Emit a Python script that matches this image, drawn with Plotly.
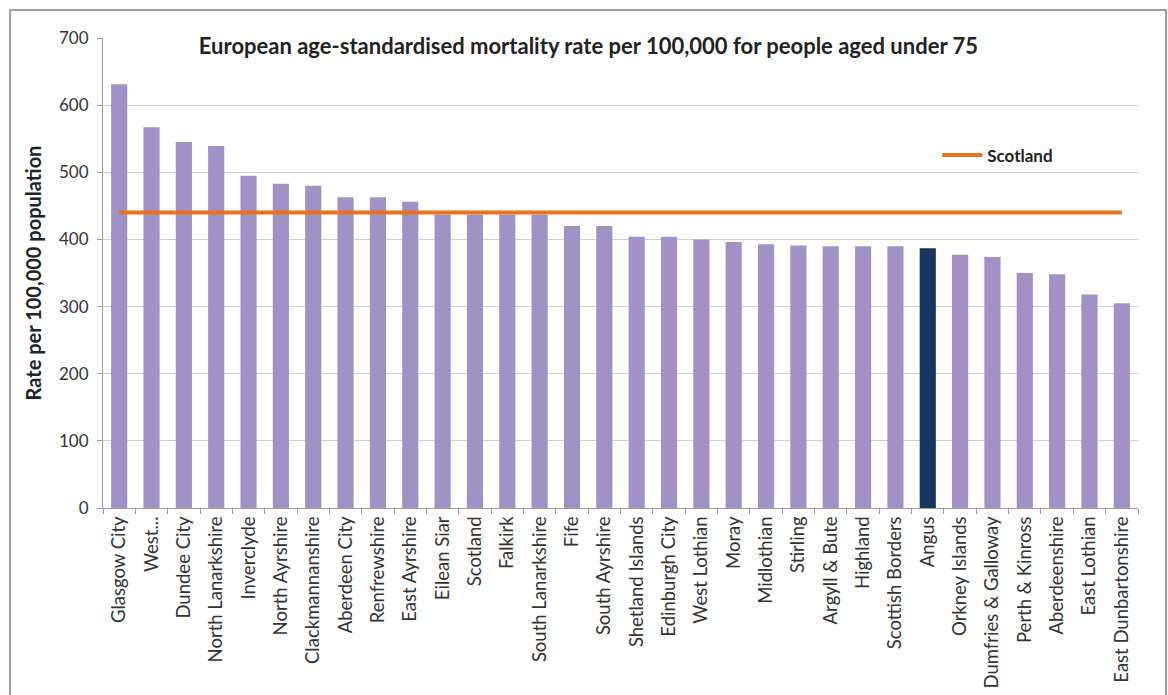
import plotly.graph_objects as go

categories = ["Glasgow City", "West...", "Dundee City", "North Lanarkshire", "Inverclyde",
              "North Ayrshire", "Clackmannanshire", "Aberdeen City", "Renfrewshire", "East Ayrshire",
              "Eilean Siar", "Scotland", "Falkirk", "South Lanarkshire", "Fife", "South Ayrshire",
              "Shetland Islands", "Edinburgh City", "West Lothian", "Moray", "Midlothian", "Stirling",
              "Argyll & Bute", "Highland", "Scottish Borders", "Angus", "Orkney Islands",
              "Dumfries & Galloway", "Perth & Kinross", "Aberdeenshire", "East Lothian",
              "East Dunbartonshire"]
rates = [631, 567, 545, 539, 495, 483, 480, 463, 463, 456, 437, 437, 437, 437, 420, 420,
         404, 404, 400, 396, 393, 391, 390, 390, 390, 387, 377, 374, 350, 348, 318, 305]
scotland_rate = 440
highlight = "Angus"
y_ticks = [0, 100, 200, 300, 400, 500, 600, 700]

bar_colors = ["#17375E" if c == highlight else "#A192C6" for c in categories]

fig = go.Figure()
fig.add_trace(go.Bar(x=categories, y=rates, marker=dict(color=bar_colors, line=dict(width=0)),
                     showlegend=False))
fig.add_trace(go.Scatter(x=categories, y=[scotland_rate] * len(categories), mode="lines",
                         line=dict(color="#E8731C", width=4), name="<b>Scotland</b>"))

fig.update_layout(
    width=1168, height=695,
    margin=dict(l=103, r=30, t=38, b=187, autoexpand=False),
    paper_bgcolor="white", plot_bgcolor="white",
    font=dict(family="Lato, Open Sans, sans-serif", color="#333333"),
    bargap=0.5,
    title=dict(text="<b>European age-standardised mortality rate per 100,000 for people aged under 75</b>",
               x=0.469, xanchor="center", xref="paper", y=0.934, yanchor="middle", yref="container",
               font=dict(size=22, color="#222222")),
    legend=dict(x=0.806, y=0.75, xanchor="left", yanchor="middle", bgcolor="rgba(0,0,0,0)",
                font=dict(size=17, color="#222222"), itemwidth=40),
    shapes=[dict(type="rect", xref="paper", yref="paper", x0=-0.0898, x1=1.0271, y0=-0.42, y1=1.0596,
                 line=dict(color="#9c9c9c", width=2), fillcolor="rgba(0,0,0,0)", layer="below")],
)
fig.update_xaxes(showline=True, linecolor="#9a9a9a", linewidth=1, ticks="outside", tickson="boundaries",
                 ticklen=5, tickcolor="#9a9a9a", tickangle=-90, tickfont=dict(size=18.5, color="#333333"),
                 showgrid=False, automargin=False)
fig.update_yaxes(range=[0, 700], tickvals=y_ticks, showline=True, linecolor="#9a9a9a", linewidth=1,
                 ticks="outside", ticklen=5, tickcolor="#9a9a9a", gridcolor="#cfcfcf", gridwidth=1,
                 tickfont=dict(size=17, color="#333333"), zeroline=False, automargin=False,
                 ticklabelstandoff=5,
                 title=dict(text="<b>Rate per 100,000 population</b>", font=dict(size=20, color="#222222"),
                            standoff=12))

fig.write_html("out.html")
